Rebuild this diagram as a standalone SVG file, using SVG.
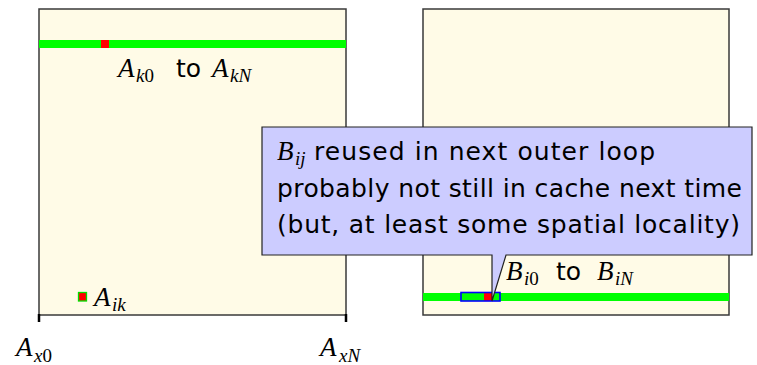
<svg xmlns="http://www.w3.org/2000/svg" width="757" height="365" viewBox="0 0 757 365">
<style>
.box{fill:#FFFBE7;stroke:#3a3a3a;stroke-width:1.5}
.grn{fill:#00FF00}
.red{fill:#FF0000}
.mi{font-family:"Liberation Serif","Times New Roman",serif;font-style:italic;font-size:27px;fill:#000}
.sub{font-size:19px}
.up{font-style:normal}
.sf{font-family:"DejaVu Sans","Noto Sans",sans-serif;font-size:25px;fill:#000}
.tick{stroke:#000;stroke-width:2.5}
</style>
<rect width="757" height="365" fill="#FFFFFF"/>
<g id="matrix-a">
  <rect class="box" x="39" y="9" width="307" height="306"/>
  <rect class="grn" x="39" y="40" width="307" height="8"/>
  <rect class="red" x="101" y="40" width="8" height="8"/>
  <rect x="78.5" y="292.5" width="8" height="8.5" fill="#FF0000" stroke="#00E000" stroke-width="1.3"/>
  <text class="mi" x="118" y="77">A<tspan class="sub" x="136" y="82">k<tspan class="up">0</tspan></tspan></text>
  <text class="sf" x="176" y="77">to</text>
  <text class="mi" x="212" y="77">A<tspan class="sub" x="230" y="82">kN</tspan></text>
  <text class="mi" x="94" y="306">A<tspan class="sub" x="112" y="311">ik</tspan></text>
</g>
<g id="axis-a">
  <line class="tick" x1="39" y1="314" x2="39" y2="322"/>
  <line class="tick" x1="346" y1="314" x2="346" y2="322"/>
  <text class="mi" x="16" y="356">A<tspan class="sub" x="34" y="362">x<tspan class="up">0</tspan></tspan></text>
  <text class="mi" x="320" y="356">A<tspan class="sub" x="339" y="362">xN</tspan></text>
</g>
<g id="matrix-b">
  <rect class="box" x="423" y="9" width="306" height="306"/>
  <rect class="grn" x="423" y="293" width="306" height="8"/>
  <rect class="red" x="484" y="293" width="8" height="8"/>
  <rect x="461" y="292.5" width="39" height="8.5" fill="none" stroke="#0000FF" stroke-width="1.6"/>
  <text class="mi" x="506" y="280">B<tspan class="sub" x="524" y="285">i<tspan class="up">0</tspan></tspan></text>
  <text class="sf" x="556" y="280">to</text>
  <text class="mi" x="597" y="280">B<tspan class="sub" x="615" y="285">iN</tspan></text>
</g>
<g id="callout">
  <path d="M262,127 H752 V255 H506 L492,301 V255 H262 Z" fill="#CCCCFF" stroke="#222" stroke-width="1.2"/>
  <text class="mi" x="277" y="160">B<tspan class="sub" x="295" y="165">ij</tspan></text>
  <text class="sf" x="314" y="160" textLength="341" lengthAdjust="spacing">reused in next outer loop</text>
  <text class="sf" x="277" y="197" textLength="465" lengthAdjust="spacing">probably not still in cache next time</text>
  <text class="sf" x="277" y="233" textLength="463" lengthAdjust="spacing">(but, at least some spatial locality)</text>
</g>
</svg>
